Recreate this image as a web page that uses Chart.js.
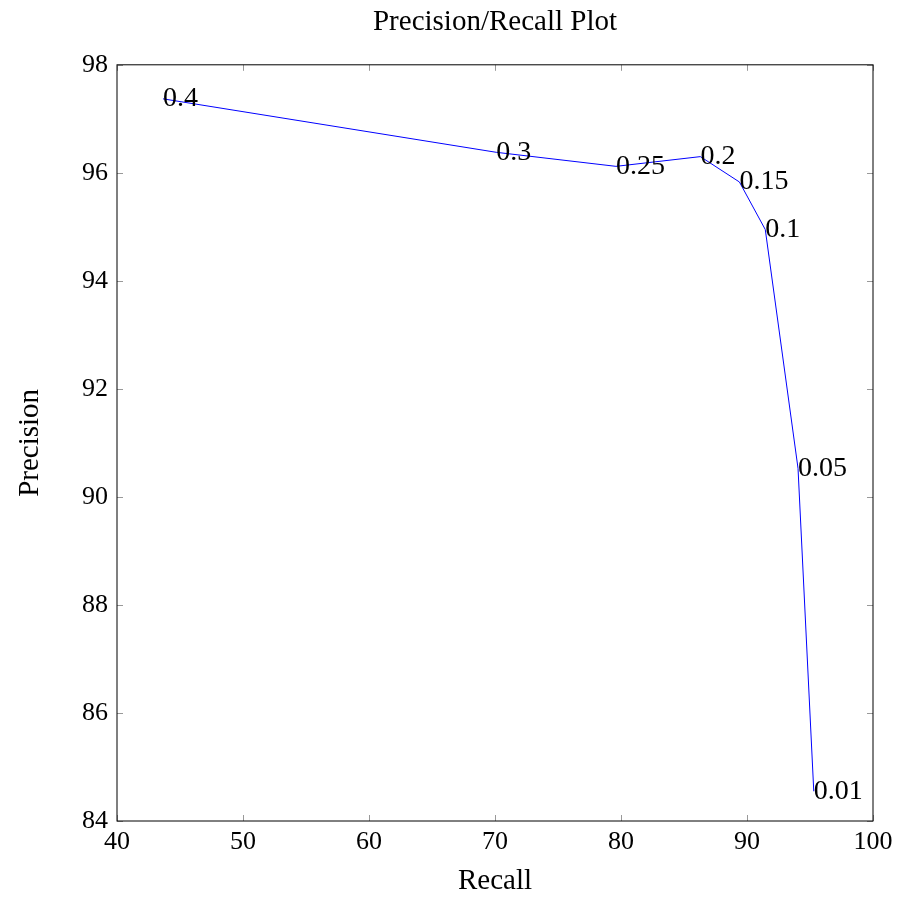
<!DOCTYPE html>
<html>
<head>
<meta charset="utf-8">
<script src="https://cdn.jsdelivr.net/npm/chart.js@4"></script>
<style>
  html, body { margin: 0; padding: 0; background: #fff; }
  #wrap { width: 900px; height: 899px; }
</style>
</head>
<body>
<div id="wrap"><canvas id="prChart" width="900" height="899"></canvas></div>
<script>
// Threshold labels and measured recall / precision
var thresholds = ['0.4', '0.3', '0.25', '0.2', '0.15', '0.1', '0.05', '0.01'];
var recall = [43.65, 70.1, 79.6, 86.3, 89.4, 91.45, 94.05, 95.3];
var precision = [97.37, 96.38, 96.12, 96.3, 95.83, 94.95, 90.53, 84.55];

var xTicks = [40, 50, 60, 70, 80, 90, 100];
var yTicks = [84, 86, 88, 90, 92, 94, 96, 98];

var FONT = "'Liberation Serif', 'DejaVu Serif', serif";

// ── Point labels, left aligned at each point ──
var pointLabels = {
    id: 'pointLabels',
    afterDatasetsDraw: function(chart) {
        var ctx = chart.ctx;
        var meta = chart.getDatasetMeta(0);
        ctx.save();
        ctx.font = '28px ' + FONT;
        ctx.fillStyle = '#000';
        ctx.textAlign = 'left';
        ctx.textBaseline = 'middle';
        meta.data.forEach(function(pt, i) {
            ctx.fillText(thresholds[i], pt.x, pt.y);
        });
        ctx.restore();
    }
};

// ── Inward tick marks on all four sides of the frame ──
var innerTicks = {
    id: 'innerTicks',
    afterDraw: function(chart) {
        var ctx = chart.ctx, a = chart.chartArea;
        var xs = chart.scales.x, ys = chart.scales.y;
        var len = 6;
        ctx.save();
        ctx.strokeStyle = '#999';
        ctx.lineWidth = 1;
        ctx.beginPath();
        xTicks.forEach(function(v) {
            var px = Math.round(xs.getPixelForValue(v)) + 0.5;
            ctx.moveTo(px, a.top); ctx.lineTo(px, a.top + len);
            ctx.moveTo(px, a.bottom); ctx.lineTo(px, a.bottom - len);
        });
        yTicks.forEach(function(v) {
            var py = Math.round(ys.getPixelForValue(v)) + 0.5;
            ctx.moveTo(a.left, py); ctx.lineTo(a.left + len, py);
            ctx.moveTo(a.right, py); ctx.lineTo(a.right - len, py);
        });
        ctx.stroke();
        ctx.strokeStyle = '#000';
        ctx.strokeRect(a.left, a.top, a.right - a.left, a.bottom - a.top);
        ctx.restore();
    }
};

new Chart(document.getElementById('prChart').getContext('2d'), {
    type: 'scatter',
    data: {
        datasets: [{
            data: recall.map(function(r, i) { return { x: r, y: precision[i] }; }),
            showLine: true,
            borderColor: '#0000ff',
            borderWidth: 1,
            pointRadius: 0,
            tension: 0,
            fill: false
        }]
    },
    options: {
        responsive: false,
        animation: false,
        layout: { padding: { left: 0, right: 27, top: 0, bottom: 0 } },
        plugins: {
            legend: { display: false },
            tooltip: { enabled: false },
            title: {
                display: true,
                fullSize: false,
                text: 'Precision/Recall Plot',
                color: '#000',
                font: { family: FONT, size: 29, weight: 'normal' },
                padding: { top: 5, bottom: 25 }
            }
        },
        scales: {
            x: {
                type: 'linear',
                min: 40, max: 100,
                afterBuildTicks: function(s) { s.ticks = xTicks.map(function(v) { return { value: v }; }); },
                afterFit: function(s) { s.height = 78; },
                grid: { display: false, drawTicks: false },
                border: { display: false },
                ticks: { color: '#000', padding: 6, maxRotation: 0, font: { family: FONT, size: 26 } },
                title: {
                    display: true, text: 'Recall', color: '#000',
                    font: { family: FONT, size: 29 },
                    padding: { top: 0, bottom: 0 }
                }
            },
            y: {
                type: 'linear',
                min: 84, max: 98,
                afterBuildTicks: function(s) { s.ticks = yTicks.map(function(v) { return { value: v }; }); },
                afterFit: function(s) { s.width = 117; },
                grid: { display: false, drawTicks: false },
                border: { display: false },
                ticks: { color: '#000', padding: 9, font: { family: FONT, size: 26 } },
                title: {
                    display: true, text: 'Precision', color: '#000',
                    font: { family: FONT, size: 29 },
                    padding: { top: 13, bottom: 0 }
                }
            }
        }
    },
    plugins: [pointLabels, innerTicks]
});
</script>
</body>
</html>
